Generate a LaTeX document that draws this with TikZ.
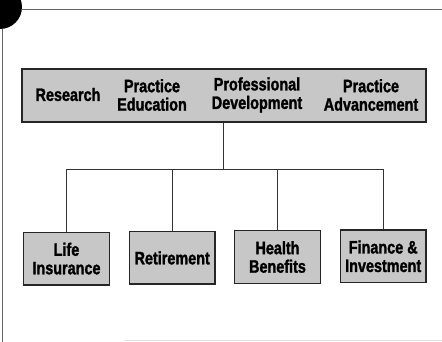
\documentclass[tikz,border=0pt]{standalone}
\usepackage{fontspec}
\setmainfont{Liberation Sans}[FakeStretch=0.80, BoldFeatures={FakeBold=1.5}]
\begin{document}
\begin{tikzpicture}[x=1pt,y=-1pt,
  boxshape/.style={draw=black!85, line width=1.4pt, fill=black!22, align=center,
    inner sep=0pt, font=\fontsize{18}{18.5}\selectfont\bfseries},
  lbl/.style={align=center, inner sep=0pt, font=\fontsize{18}{18.5}\selectfont\bfseries},
  conn/.style={draw=black!80, line width=0.9pt},
  frameline/.style={draw=black!60, line width=1.3pt}]
\useasboundingbox (0,0) rectangle (442,342);
% frame decorations
\fill[black] (0,7) circle (22);
\draw[frameline] (21,9.5) -- (442,9.5);
\draw[frameline] (2.5,29) -- (2.5,342);
\draw[black!12, line width=1pt] (125,340.5) -- (442,340.5);
% top box
\node[boxshape, minimum width=404, minimum height=53] (top) at (224,95.5) {};
\node[lbl] (research) at (68,94.5) {Research};
\node[lbl] (pedu) at (152,95) {Practice\\Education};
\node[lbl] (pdev) at (257,95) {Professional\\Development};
\node[lbl] (padv) at (371,95) {Practice\\Advancement};
% bottom boxes
\node[boxshape, minimum width=85.5, minimum height=52.5] (b1) at (66.5,258.6) {Life\\Insurance};
\node[boxshape, minimum width=85.5, minimum height=52.5] (b2) at (172.2,257.9) {Retirement};
\node[boxshape, minimum width=86, minimum height=52.5] (b3) at (277.5,257) {Health\\Benefits};
\node[boxshape, minimum width=85.5, minimum height=52.5] (b4) at (383.2,256.3) {Finance \&\\Investment};
% connectors
\coordinate (hub) at (223,169.5);
\draw[conn] (top.south -| hub) -- (hub);
\draw[conn] (b1.north |- hub) -- (b4.north |- hub);
\draw[conn] (b1.north |- hub) -- (b1.north);
\draw[conn] (b2.north |- hub) -- (b2.north);
\draw[conn] (b3.north |- hub) -- (b3.north);
\draw[conn] (b4.north |- hub) -- (b4.north);
\end{tikzpicture}
\end{document}
